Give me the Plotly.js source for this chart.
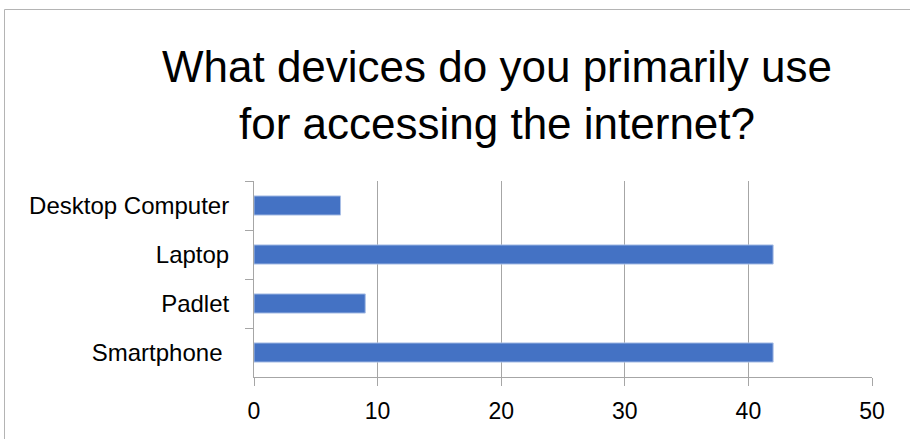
<!DOCTYPE html>
<html>
<head>
<meta charset="utf-8">
<script src="https://cdn.plot.ly/plotly-3.0.1.min.js"></script>
<style>html,body{margin:0;padding:0;background:#fff;}#chart{width:910px;height:439px;}</style>
</head>
<body>
<div id="chart"></div>
<script>
const chartTitle = 'What devices do you primarily use<br>for accessing the internet?';
const categories = ['Desktop Computer', 'Laptop', 'Padlet', 'Smartphone\u00a0'];
const counts = [7, 42, 9, 42];
const xTicks = [0, 10, 20, 30, 40, 50];

const grey = '#a6a6a6';
const font = 'Liberation Sans, Arial, sans-serif';

const trace = {
  type: 'bar',
  orientation: 'h',
  y: categories,
  x: counts,
  marker: {color: '#4472C4', line: {color: '#a9bfe6', width: 1}},
  hoverinfo: 'x+y'
};

const layout = {
  width: 910, height: 439,
  margin: {l: 254, r: 38, t: 181, b: 62},
  paper_bgcolor: '#fff', plot_bgcolor: '#fff',
  showlegend: false,
  bargap: 0.61,
  font: {family: font, color: '#000'},
  title: {
    text: chartTitle,
    font: {family: font, size: 44, color: '#000'},
    x: 497/910, xref: 'container', xanchor: 'center',
    y: 0.813, yref: 'container', yanchor: 'top'
  },
  xaxis: {
    range: [0, 50],
    tickvals: xTicks,
    ticktext: xTicks.map(String),
    showgrid: true, gridcolor: grey, gridwidth: 1,
    showline: true, linecolor: grey, linewidth: 1,
    ticks: 'outside', ticklen: 8, tickcolor: grey,
    ticklabelstandoff: 5,
    tickfont: {family: font, size: 23, color: '#000'},
    zeroline: false, fixedrange: true
  },
  yaxis: {
    type: 'category',
    autorange: 'reversed',
    showgrid: false,
    showline: true, linecolor: grey, linewidth: 1,
    ticks: 'outside', ticklen: 8, tickcolor: grey,
    tickson: 'boundaries',
    ticklabelstandoff: 19,
    tickfont: {family: font, size: 24, color: '#000'},
    zeroline: false, fixedrange: true
  },
  shapes: [{
    type: 'rect', xref: 'paper', yref: 'paper',
    x0: (4.5 - 254) / 618, x1: (915 - 254) / 618,
    y0: (377 - 445) / 196, y1: (377 - 9.5) / 196,
    line: {color: '#b4b4b4', width: 1}, fillcolor: 'rgba(0,0,0,0)', layer: 'below'
  }]
};

Plotly.newPlot('chart', [trace], layout, {displayModeBar: false, staticPlot: true});
</script>
</body>
</html>
